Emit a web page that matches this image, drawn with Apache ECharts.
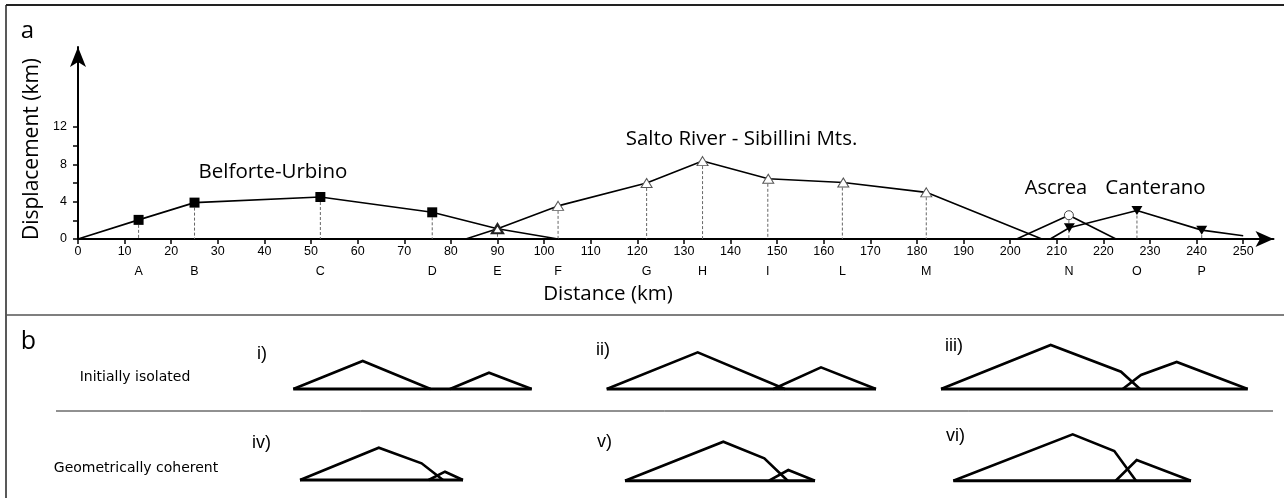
<!DOCTYPE html>
<html><head><meta charset="utf-8">
<script src="https://cdn.jsdelivr.net/npm/echarts@6/dist/echarts.min.js"></script>
<style>html,body{margin:0;padding:0;background:#fff}#c{width:1284px;height:498px}</style>
</head><body><div id="c"></div>
<script>
// ---------- Panel a data ----------
const xTicks = [0,10,20,30,40,50,60,70,80,90,100,110,120,130,140,150,160,170,180,190,200,210,220,230,240,250];
const yTickLabels = [0,4,8,12];
const yTicks = [0,2,4,6,8,10,12];
const letters = ['A','B','C','D','E','F','G','H','I','L','M','N','O','P'];
const letterKm = [13,25,52,76,90,103,122,134,148,164,182,212.6,227.2,241.1];

const belforteKm   = [0, 13, 25, 52, 76, 90, 103];
const belforteDisp = [0, 2.05, 3.9, 4.5, 2.86, 1.1, 0];
const belforteMark = [0, 1, 1, 1, 1, 0, 0];

const saltoKm   = [83.2, 90, 103, 122, 134, 148.1, 164.2, 182, 206.8];
const saltoDisp = [0, 1.1, 3.55, 6.0, 8.35, 6.45, 6.05, 5.0, 0];
const saltoMark = [0, 1, 1, 1, 1, 1, 1, 1, 0];

const ascreaKm   = [201.4, 212.6, 222.7];
const ascreaDisp = [0, 2.55, 0];
const ascreaMark = [0, 1, 0];

const canteranoKm   = [208.6, 212.7, 227.2, 241.1, 250];
const canteranoDisp = [0, 1.2, 3.05, 0.95, 0.35];
const canteranoMark = [0, 1, 1, 1, 0];

const seriesNames = ['Belforte-Urbino','Salto River - Sibillini Mts.','Ascrea','Canterano'];

// ---------- Panel b schematic data ----------
const schemeLabels = ['i)','ii)','iii)','iv)','v)','vi)'];
const schemeBigX = [[0,69.4,137.3],[0,91,178.3],[0,109.7,180,199],[0,78.8,121.6,143],[0,98.3,139.3,162.7],[0,119.4,161,182.7]];
const schemeBigY = [[0,28,0],[0,36.7,0],[0,44,17.3,0],[0,32.3,16.7,0],[0,39,22.4,0],[0,46.4,29.7,0]];
const schemeSmallX = [[156.7,195.7,238.4],[166.6,214.3,269.3],[181.7,200,235.7,306.7],[128.6,145,163],[144,163.3,190],[162.4,183.4,237.7]];
const schemeSmallY = [[0,16.3,0],[0,21.7,0],[0,14,27,0],[0,8.3,0],[0,10.7,0],[0,20.7,0]];
const schemeBaseLength = [238.4,269.3,306.7,163,190,237.7];
const rowLabels = ['Initially isolated','Geometrically coherent'];

// ---------- layout ----------
const schemeLeft = [293.3,606.7,941,300,625,953.3];
const schemeBaseY = [389,389,389,480,480.7,480.7];
const schemeLabelPos = [[257,354],[596,350],[945,346],[252,443],[597,442],[946,436]];

const zip = (xs, ys) => xs.map((x,i)=>[x, ys[i]]);
const marked = (xs, ys, m, sym) => xs.map((x,i)=>({value:[x,ys[i]], symbol: m[i] ? sym : 'none'}));

const allPts = [].concat(zip(belforteKm,belforteDisp), zip(saltoKm,saltoDisp), zip(ascreaKm,ascreaDisp), zip(canteranoKm,canteranoDisp));
const guideTop = letterKm.map(k => Math.max.apply(null, allPts.filter(p=>Math.abs(p[0]-k)<0.5).map(p=>p[1])));

const grids = [{left:78, right:10.5, top:47, bottom:259}];
const xAxes = [
  {type:'value', gridIndex:0, min:0, max:256.5,
   axisLine:{show:true, onZero:true, symbol:['none','arrow'], symbolSize:[12,18], lineStyle:{color:'#000', width:2}},
   axisTick:{show:true, customValues:xTicks, length:5, lineStyle:{color:'#000', width:1.5}},
   axisLabel:{show:true, customValues:xTicks, fontSize:12.5, color:'#000', margin:6, fontFamily:'Liberation Sans'},
   splitLine:{show:false}},
  {type:'value', gridIndex:0, min:0, max:256.5, position:'bottom', offset:0,
   axisLine:{show:false}, axisTick:{show:false}, splitLine:{show:false},
   axisLabel:{show:true, customValues:letterKm, fontSize:12.5, color:'#000', margin:26, fontFamily:'Liberation Sans',
     formatter:v=>{const i=letterKm.findIndex(k=>Math.abs(k-v)<1e-6); return i>=0?letters[i]:'';}}}
];
const yAxes = [
  {type:'value', gridIndex:0, min:0, max:20.58,
   axisLine:{show:true, symbol:['none','arrow'], symbolSize:[12,20], lineStyle:{color:'#000', width:2}},
   axisTick:{show:true, customValues:yTicks, length:5, lineStyle:{color:'#000', width:1.5}},
   axisLabel:{show:true, customValues:yTickLabels, fontSize:12.5, color:'#000', margin:11, fontFamily:'Liberation Sans'},
   splitLine:{show:false}}
];

const series = [];
// dashed guides
letterKm.forEach((k,i)=>{
  series.push({type:'line', xAxisIndex:0, yAxisIndex:0, silent:true, symbol:'none', z:1,
    data:[[k, guideTop[i]],[k,0]], lineStyle:{color:'#666', width:1, type:[3,2]}});
});
const lineStyle = {color:'#000', width:1.6};
series.push({name:seriesNames[0], type:'line', xAxisIndex:0, yAxisIndex:0, z:3,
  data:marked(belforteKm,belforteDisp,belforteMark,'rect'), symbolSize:10, showAllSymbol:true,
  lineStyle, itemStyle:{color:'#000', borderColor:'#000', borderWidth:0}});
series.push({name:seriesNames[1], type:'line', xAxisIndex:0, yAxisIndex:0, z:4,
  data:marked(saltoKm,saltoDisp,saltoMark,'triangle').map((d,i)=> i===1 ? Object.assign(d,{itemStyle:{borderWidth:2.2, borderColor:'#222'}}) : d),
  symbolSize:[11,9], showAllSymbol:true,
  lineStyle, itemStyle:{color:'#fff', borderColor:'#555', borderWidth:1}});
series.push({name:seriesNames[2], type:'line', xAxisIndex:0, yAxisIndex:0, z:4,
  data:marked(ascreaKm,ascreaDisp,ascreaMark,'circle'), symbolSize:9, showAllSymbol:true,
  lineStyle, itemStyle:{color:'#fff', borderColor:'#444', borderWidth:1}});
series.push({name:seriesNames[3], type:'line', xAxisIndex:0, yAxisIndex:0, z:4,
  data:marked(canteranoKm,canteranoDisp,canteranoMark,'triangle'), symbolSize:[11,9], symbolRotate:180, showAllSymbol:true,
  lineStyle, itemStyle:{color:'#000', borderColor:'#000', borderWidth:0}});

// panel b
schemeLabels.forEach((lab,i)=>{
  const gi = i+1;
  grids.push({left:schemeLeft[i], width:schemeBaseLength[i], top:schemeBaseY[i]-60, height:60});
  xAxes.push({type:'value', gridIndex:gi, min:0, max:schemeBaseLength[i], show:false});
  yAxes.push({type:'value', gridIndex:gi, min:0, max:60, show:false});
  const st = {color:'#000', width:2.6, join:'miter'};
  series.push({type:'line', xAxisIndex:gi+1, yAxisIndex:gi, symbol:'none', silent:true, clip:false,
    data:[[0,0],[schemeBaseLength[i],0]], lineStyle:{color:'#000', width:3}});
  series.push({type:'line', xAxisIndex:gi+1, yAxisIndex:gi, symbol:'none', silent:true, clip:false,
    data:zip(schemeBigX[i],schemeBigY[i]), lineStyle:st});
  series.push({type:'line', xAxisIndex:gi+1, yAxisIndex:gi, symbol:'none', silent:true, clip:false,
    data:zip(schemeSmallX[i],schemeSmallY[i]), lineStyle:st});
});

const font = "'Open Sans'";
const graphic = [
  {type:'line', shape:{x1:6, y1:5, x2:1284, y2:5}, style:{stroke:'#222', lineWidth:2}},
  {type:'line', shape:{x1:6, y1:5, x2:6, y2:498}, style:{stroke:'#222', lineWidth:1.5}},
  {type:'line', shape:{x1:6, y1:315, x2:1284, y2:315}, style:{stroke:'#555', lineWidth:1.5}},
  {type:'line', shape:{x1:56, y1:411, x2:1273, y2:411}, style:{stroke:'#222', lineWidth:1}},
  {type:'text', x:27.5, y:31, style:{text:'a', font:'24px '+font, fill:'#000', align:'center', verticalAlign:'middle'}},
  {type:'text', x:28.5, y:342, style:{text:'b', font:'25px '+font, fill:'#000', align:'center', verticalAlign:'middle'}},
  {type:'text', x:32, y:149, rotation:Math.PI/2, style:{text:'Displacement (km)', font:'21px '+font, fill:'#000', align:'center', verticalAlign:'middle'}},
  {type:'text', x:608, y:294, style:{text:'Distance (km)', font:'20.5px '+font, fill:'#000', align:'center', verticalAlign:'middle'}},
  {type:'text', x:273, y:172, style:{text:seriesNames[0], font:'20.5px '+font, fill:'#000', align:'center', verticalAlign:'middle'}},
  {type:'text', x:741.5, y:139, style:{text:seriesNames[1], font:'20.5px '+font, fill:'#000', align:'center', verticalAlign:'middle'}},
  {type:'text', x:1056, y:188, style:{text:seriesNames[2], font:'20px '+font, fill:'#000', align:'center', verticalAlign:'middle'}},
  {type:'text', x:1155.5, y:188, style:{text:seriesNames[3], font:'20.5px '+font, fill:'#000', align:'center', verticalAlign:'middle'}},
  {type:'text', x:135, y:377, style:{text:rowLabels[0], font:"14px 'DejaVu Sans'", fill:'#000', align:'center', verticalAlign:'middle'}},
  {type:'text', x:136, y:468, style:{text:rowLabels[1], font:"14px 'DejaVu Sans'", fill:'#000', align:'center', verticalAlign:'middle'}}
];
schemeLabels.forEach((lab,i)=>{
  graphic.push({type:'text', x:schemeLabelPos[i][0], y:schemeLabelPos[i][1], style:{text:lab, font:"18px 'Liberation Sans'", fill:'#000', align:'left', verticalAlign:'middle'}});
});

const chart = echarts.init(document.getElementById('c'), null, {renderer:'canvas'});
chart.setOption({animation:false, backgroundColor:'#fff', grid:grids, xAxis:xAxes, yAxis:yAxes, series, graphic});
</script></body></html>
